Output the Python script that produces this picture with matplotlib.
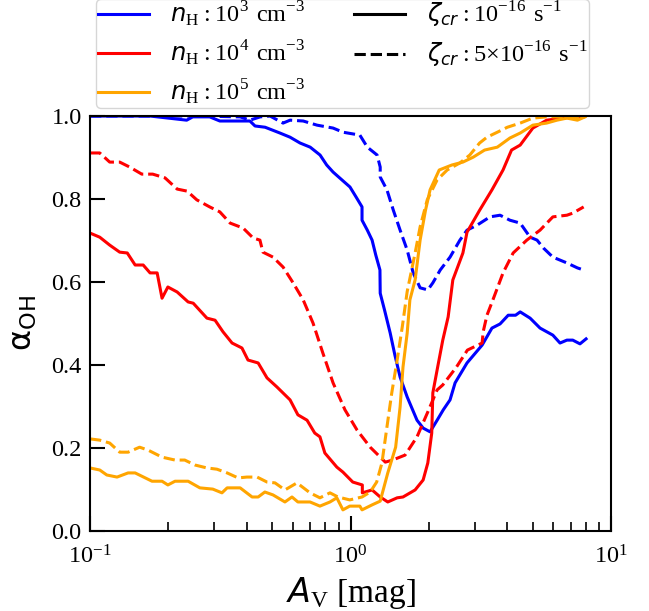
import numpy as np
import matplotlib
matplotlib.use("Agg")
import matplotlib.pyplot as plt
from matplotlib.lines import Line2D

plt.rcParams['font.family'] = ['Liberation Serif', 'DejaVu Serif']
plt.rcParams['mathtext.fontset'] = 'custom'
plt.rcParams['mathtext.rm'] = 'Liberation Serif'
plt.rcParams['mathtext.it'] = 'DejaVu Sans:italic'
plt.rcParams['mathtext.sf'] = 'DejaVu Sans'
plt.rcParams['mathtext.bf'] = 'Liberation Serif:bold'

# n_H = 1e3, zeta = 1e-16
av_b1 = [0.100, 0.170, 0.235, 0.248, 0.288, 0.315, 0.411, 0.43, 0.47, 0.536, 0.586, 0.640, 0.70, 0.764,
         0.81, 0.857, 0.927, 0.995, 1.05, 1.107, 1.107, 1.16, 1.21, 1.25, 1.297, 1.30, 1.35, 1.42, 1.48,
         1.55, 1.65, 1.80, 1.90, 2.02, 2.15, 2.27, 2.41, 2.52, 2.80, 3.20, 3.49, 3.75, 4.03, 4.3, 4.48,
         4.89, 5.34, 5.98, 6.37, 6.77, 7.13, 7.60, 8.02]
oh_b1 = [1.0, 1.0, 0.990, 0.998, 0.998, 0.988, 0.988, 0.976, 0.973, 0.959, 0.949, 0.935, 0.925, 0.906,
         0.882, 0.865, 0.846, 0.829, 0.805, 0.781, 0.749, 0.725, 0.701, 0.665, 0.629, 0.573, 0.533, 0.477, 0.424,
         0.371, 0.323, 0.267, 0.248, 0.239, 0.267, 0.292, 0.316, 0.357, 0.405, 0.448, 0.489, 0.499, 0.520, 0.52, 0.528,
         0.513, 0.489, 0.472, 0.453, 0.460, 0.460, 0.451, 0.463]

# n_H = 1e3, zeta = 5e-16
av_b2 = [0.100, 0.264, 0.377, 0.411, 0.45, 0.491, 0.551, 0.586, 0.658, 0.744, 0.857, 0.936, 1.086, 1.16,
         1.265, 1.30, 1.30, 1.38, 1.46, 1.55, 1.65, 1.74, 1.85, 1.98, 2.07, 2.21, 2.41, 2.63, 2.80, 3.06,
         3.43, 3.75, 4.09, 4.48, 4.89, 5.20, 5.50, 5.98, 6.77, 7.43, 7.85]
oh_b2 = [1.0, 1.0, 0.998, 0.990, 0.998, 1.0, 0.983, 0.990, 0.988, 0.978, 0.971, 0.961, 0.954, 0.925,
         0.906, 0.877, 0.853, 0.822, 0.773, 0.725, 0.677, 0.622, 0.586, 0.581, 0.598, 0.629, 0.660, 0.701, 0.725, 0.737,
         0.757, 0.761, 0.749, 0.742, 0.708, 0.701, 0.682, 0.660, 0.646, 0.634, 0.629]

# n_H = 1e4, zeta = 1e-16
av_r1 = [0.100, 0.109, 0.119, 0.130, 0.139, 0.149, 0.160, 0.170, 0.181, 0.189, 0.199, 0.216, 0.238, 0.249,
         0.281, 0.302, 0.324, 0.351, 0.383, 0.404, 0.442, 0.478, 0.522, 0.586, 0.628, 0.681, 0.729, 0.763,
         0.797, 0.886, 0.935, 1.02, 1.11, 1.11, 1.21, 1.30, 1.39, 1.51, 1.59, 1.77, 1.90, 1.98, 2.05, 2.07,
         2.16, 2.26, 2.37, 2.47, 2.70, 2.80, 3.13, 3.49, 3.85, 4.15, 4.48, 5.01, 5.66, 6.54, 7.85]
oh_r1 = [0.718, 0.708, 0.689, 0.672, 0.670, 0.641, 0.641, 0.622, 0.622, 0.561, 0.588, 0.576, 0.552, 0.549,
         0.513, 0.508, 0.480, 0.453, 0.441, 0.412, 0.405, 0.369, 0.347, 0.316, 0.280, 0.267, 0.236, 0.227,
         0.188, 0.154, 0.142, 0.118, 0.111, 0.092, 0.099, 0.082, 0.070, 0.080, 0.082, 0.099, 0.123, 0.164, 0.236, 0.333,
         0.395, 0.460, 0.516, 0.605, 0.670, 0.720, 0.773, 0.822, 0.870, 0.918, 0.930, 0.971, 0.990, 0.995, 1.0]

# n_H = 1e4, zeta = 5e-16
av_r2 = [0.100, 0.109, 0.119, 0.130, 0.142, 0.158, 0.174, 0.194, 0.216, 0.236, 0.257, 0.288, 0.315, 0.345,
         0.387, 0.423, 0.449, 0.461, 0.504, 0.551, 0.602, 0.658, 0.718, 0.783, 0.857, 0.952, 1.06, 1.19,
         1.36, 1.45, 1.62, 1.80, 1.98, 2.15, 2.26, 2.55, 2.81, 3.20, 3.23, 3.34, 3.52, 3.85, 4.21, 4.75,
         5.34, 5.98, 6.77, 7.13, 7.85]
oh_r2 = [0.911, 0.911, 0.889, 0.889, 0.877, 0.860, 0.860, 0.851, 0.824, 0.819, 0.798, 0.781, 0.769, 0.742,
         0.730, 0.706, 0.701, 0.672, 0.660, 0.636, 0.598, 0.557, 0.501, 0.429, 0.357, 0.292, 0.243, 0.202,
         0.166, 0.171, 0.183, 0.227, 0.287, 0.340, 0.352, 0.395, 0.436, 0.453, 0.480, 0.520, 0.557, 0.622, 0.670, 0.701,
         0.725, 0.757, 0.761, 0.766, 0.781]

# n_H = 1e5, zeta = 1e-16
av_o1 = [0.100, 0.109, 0.116, 0.127, 0.140, 0.149, 0.173, 0.189, 0.199, 0.212, 0.238, 0.264, 0.296, 0.321,
         0.336, 0.377, 0.419, 0.442, 0.469, 0.504, 0.560, 0.596, 0.628, 0.699, 0.763, 0.834, 0.886, 0.935,
         0.993, 1.086, 1.107, 1.21, 1.30, 1.39, 1.49, 1.55, 1.59, 1.65, 1.69, 1.77, 1.85, 1.94, 2.02, 2.19,
         2.45, 2.70, 2.96, 3.27, 3.66, 4.09, 4.48, 5.01, 5.66, 6.20, 6.77, 7.43, 7.95]
oh_o1 = [0.152, 0.147, 0.135, 0.130, 0.140, 0.140, 0.120, 0.120, 0.111, 0.120, 0.120, 0.104, 0.101, 0.092,
         0.104, 0.104, 0.082, 0.082, 0.094, 0.087, 0.070, 0.082, 0.070, 0.070, 0.060, 0.070, 0.080, 0.051,
         0.060, 0.060, 0.051, 0.063, 0.072, 0.140, 0.202, 0.299, 0.395, 0.477, 0.557, 0.605, 0.701, 0.773, 0.822, 0.870,
         0.882, 0.889, 0.901, 0.918, 0.925, 0.947, 0.959, 0.978, 0.983, 0.990, 0.995, 0.990, 0.998]

# n_H = 1e5, zeta = 5e-16
av_o2 = [0.100, 0.109, 0.119, 0.130, 0.140, 0.155, 0.167, 0.189, 0.212, 0.231, 0.253, 0.281, 0.307, 0.336,
         0.370, 0.400, 0.438, 0.478, 0.513, 0.560, 0.623, 0.699, 0.763, 0.834, 0.895, 0.993, 1.107, 1.19,
         1.26, 1.32, 1.38, 1.44, 1.51, 1.58, 1.65, 1.77, 1.85, 1.97, 2.15, 2.35, 2.63, 2.87, 3.13, 3.34,
         3.66, 4.00, 4.48, 5.01, 5.66, 6.37, 7.13, 7.95]
oh_o2 = [0.222, 0.219, 0.212, 0.190, 0.190, 0.202, 0.195, 0.178, 0.171, 0.171, 0.159, 0.152, 0.149, 0.140,
         0.128, 0.130, 0.130, 0.118, 0.116, 0.099, 0.116, 0.092, 0.080, 0.092, 0.082, 0.075, 0.082, 0.094,
         0.118, 0.164, 0.251, 0.333, 0.412, 0.492, 0.577, 0.670, 0.733, 0.798, 0.846, 0.870, 0.887, 0.906, 0.935, 0.949,
         0.961, 0.973, 0.983, 0.995, 0.998, 0.998, 0.995, 0.998]

dens_labels = [r'$n_{\rm H}: 10^3\ {\rm cm}^{-3}$', r'$n_{\rm H}: 10^4\ {\rm cm}^{-3}$',
               r'$n_{\rm H}: 10^5\ {\rm cm}^{-3}$']
zeta_labels = [r'$\zeta_{cr}: 10^{-16}\ {\rm s}^{-1}$', r'$\zeta_{cr}: 5{\times}10^{-16}\ {\rm s}^{-1}$']
colors = ['blue', 'red', 'orange']

fig = plt.figure(figsize=(6.49, 6.11), dpi=100)
ax = fig.add_axes([0.1387, 0.1309, 0.8028, 0.6792])

lw = 2.2
ax.plot(av_b1, oh_b1, color=colors[0], lw=lw, ls='-')
ax.plot(av_b2, oh_b2, color=colors[0], lw=lw, ls='--')
ax.plot(av_r1, oh_r1, color=colors[1], lw=lw, ls='-')
ax.plot(av_r2, oh_r2, color=colors[1], lw=lw, ls='--')
ax.plot(av_o1, oh_o1, color=colors[2], lw=lw, ls='-')
ax.plot(av_o2, oh_o2, color=colors[2], lw=lw, ls='--')

ax.set_xscale('log')
ax.set_xlim(0.1, 10)
ax.set_ylim(0, 1)
ax.set_yticks([0, 0.2, 0.4, 0.6, 0.8, 1.0])
ax.set_yticklabels(['0.0', '0.2', '0.4', '0.6', '0.8', '1.0'])
ax.tick_params(which='major', direction='in', length=11, width=1.5, labelsize=17.5, pad=6,
               top=False, right=False)
ax.tick_params(axis='x', which='major', pad=10)
ax.tick_params(which='minor', direction='in', length=6.5, width=1.2, top=False, right=False)
for s in ax.spines.values():
    s.set_linewidth(1.5)

ax.set_xlabel(r'$A_{\rm V}$ [mag]', fontsize=24, labelpad=5)
ax.set_ylabel(r'$\mathsf{\alpha_{OH}}$', fontsize=23, labelpad=9)

handles = [Line2D([], [], color=colors[0], lw=lw),
           Line2D([], [], color=colors[1], lw=lw),
           Line2D([], [], color=colors[2], lw=lw),
           Line2D([], [], color='black', lw=lw, ls='-'),
           Line2D([], [], color='black', lw=lw, ls='--'),
           Line2D([], [], color='none', lw=0)]
labels = dens_labels + zeta_labels + ['']
ax.legend(handles, labels, ncol=2, loc='lower center', bbox_to_anchor=(0.485, 1.019),
          borderaxespad=0, fontsize=17.5, handlelength=2.1, handletextpad=0.9, columnspacing=2.0,
          labelspacing=0.38, borderpad=0.05, frameon=True)

fig.savefig('out.png', dpi=100)
